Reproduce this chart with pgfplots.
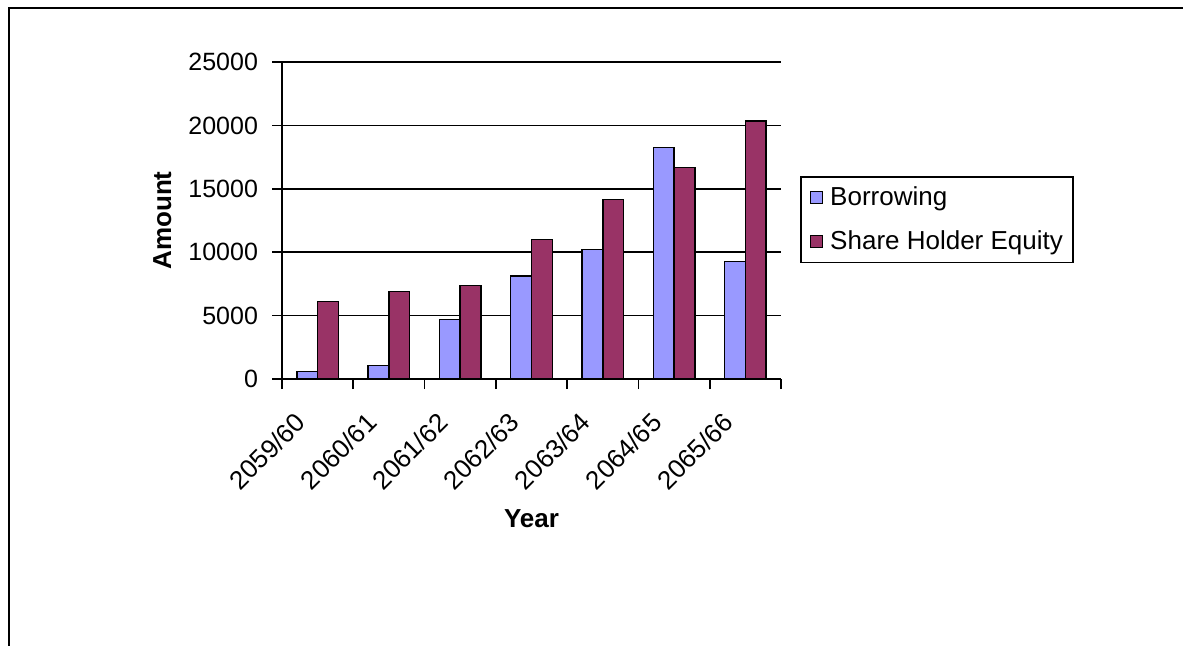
\documentclass[border=0pt]{standalone}
\usepackage{fontspec}
\setmainfont{Liberation Sans}
\usepackage{pgfplots}
\pgfplotsset{compat=1.18}
\definecolor{borrow}{HTML}{9999FF}
\definecolor{equity}{HTML}{993366}
\begin{document}
\begin{tikzpicture}[font=\fontsize{12.5}{15}\selectfont]
\useasboundingbox (0,0) rectangle (591.5pt,-322.5pt);
\draw[line width=1.3pt] (4.5pt,-323pt) -- (4.5pt,-4pt) -- (592pt,-4pt);
\begin{axis}[
  at={(141pt,-189.5pt)}, anchor=south west,
  scale only axis, width=249.5pt, height=158.5pt,
  ybar=0pt, bar width=10.4pt,
  xmin=-0.5, xmax=6.5, ymin=0, ymax=25000,
  xtick={-0.5,0.5,...,6.5},
  x tick label as interval,
  xticklabels={2059/60,2060/61,2061/62,2062/63,2063/64,2064/65,2065/66},
  xticklabel style={xshift=-12pt, yshift=-9.5pt, rotate=45, anchor=north east, inner sep=1pt,
    font=\fontsize{13}{15}\selectfont},
  yticklabel style={xshift=-3.5pt},
  ytick={0,5000,...,25000},
  scaled y ticks=false,
  /pgf/number format/1000 sep={},
  /pgf/number format/assume math mode=true,
  axis x line*=bottom, axis y line*=left,
  axis line style={line width=0.8pt, black},
  every tick/.style={line width=0.8pt, black},
  tick align=outside, major tick length=5pt,
  ymajorgrids, grid style={line width=0.8pt, black},
  xlabel={\bfseries Year}, ylabel={\bfseries Amount},
  label style={font=\fontsize{13}{15}\selectfont},
  xlabel style={at={(axis description cs:0.5,-0.442)}, anchor=center},
  ylabel style={at={(axis description cs:-0.240,0.5)}, anchor=center},
  legend style={at={(axis description cs:1.038,0.640)}, anchor=north west,
    draw=black, line width=0.8pt, row sep=7pt, inner xsep=3pt, inner ysep=3pt,
    font=\fontsize{13}{15}\selectfont, cells={anchor=west}},
  legend image code/.code={\draw[#1, line width=0.6pt] (1.5pt,-3pt) rectangle (7.5pt,3pt); \path (0pt,0pt) (9pt,0pt);},
]
\addplot[fill=borrow, draw=black, line width=0.75pt] coordinates {
(0,580) (1,1080) (2,4700) (3,8140) (4,10200) (5,18250) (6,9270)};
\addplot[fill=equity, draw=black, line width=0.75pt] coordinates {
(0,6100) (1,6910) (2,7380) (3,11000) (4,14150) (5,16680) (6,20330)};
\legend{Borrowing, Share Holder Equity}
\end{axis}
\end{tikzpicture}
\end{document}
